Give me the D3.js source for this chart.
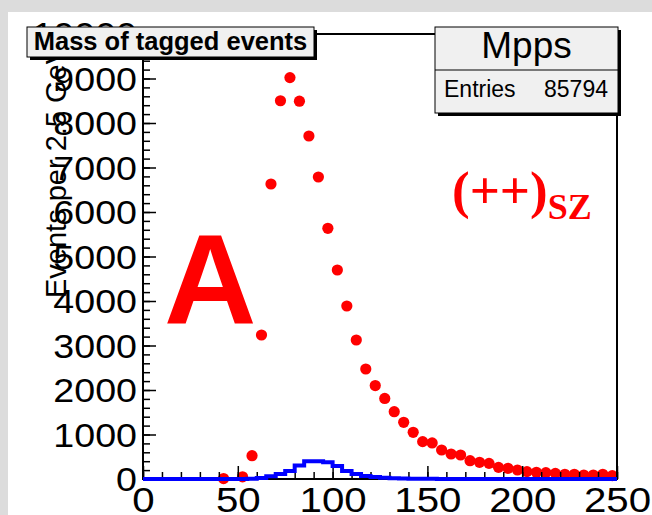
<!DOCTYPE html>
<html>
<head>
<meta charset="utf-8">
<script src="https://cdn.jsdelivr.net/npm/d3@7"></script>
<style>
  html, body { margin: 0; padding: 0; background: #dcdcdc; }
  svg { display: block; }
  text { font-family: "Liberation Sans", Arial, Helvetica, sans-serif; }
</style>
</head>
<body>
<div id="chart"></div>
<script>
// bin edges in GeV (5 GeV bins)
const binEdges = [0, 5, 10, 15, 20, 25, 30, 35, 40, 45, 50, 55, 60, 65, 70, 75, 80, 85, 90, 95,
                  100, 105, 110, 115, 120, 125, 130, 135, 140, 145, 150, 155, 160, 165, 170, 175, 180, 185, 190, 195,
                  200, 205, 210, 215, 220, 225, 230, 235, 240, 245, 250];

// red markers, one per bin (null = not drawn)
const redCounts = [null, null, null, null, null, null, null, null, 10, null,
                   50, 524, 3236, 6629, 8500, 9020, 8490, 7708, 6787, 5634,
                   4697, 3888, 3124, 2472, 2100, 1810, 1513, 1274, 1049, 839,
                   810, 652, 562, 539, 412, 375, 352, 262, 240, 202,
                   165, 150, 143, 127, 105, 105, 90, 90, 105, 75];

// blue histogram, one per bin
const blueCounts = [0, 0, 0, 0, 0, 0, 0, 0, 0, 0,
                    0, 5, 25, 60, 110, 180, 305, 400, 400, 375,
                    290, 180, 115, 70, 45, 30, 18, 10, 6, 4,
                    3, 2, 2, 1, 1, 1, 0, 0, 0, 0,
                    0, 0, 0, 0, 0, 0, 0, 0, 0, 0];

const xTicks = [0, 50, 100, 150, 200, 250];
const yTicks = [0, 1000, 2000, 3000, 4000, 5000, 6000, 7000, 8000, 9000, 10000];

const histTitle = "Mass of tagged events";
const statsName = "Mpps";
const statsEntries = 85794;
const yTitle = "Events per 2.5 GeV";

const W = 652, H = 515;
const margin = {top: 34, right: 35, bottom: 36, left: 143};
const width = W - margin.left - margin.right,
      height = H - margin.top - margin.bottom;

const svg = d3.select("#chart").append("svg")
    .attr("width", W)
    .attr("height", H);

// white pad
svg.append("rect")
    .attr("x", 8).attr("y", 12)
    .attr("width", W - 8).attr("height", H - 12)
    .attr("fill", "#ffffff");

const g = svg.append("g")
    .attr("transform", `translate(${margin.left},${margin.top})`);

const x = d3.scaleLinear().domain([0, 250]).range([0, width]);
const y = d3.scaleLinear().domain([0, 10000]).range([height, 0]);

// red markers (drawn before the axes, like ROOT)
const points = binEdges.slice(0, -1).map((lo, i) => ({m: (lo + binEdges[i + 1]) / 2, n: redCounts[i]}))
    .filter(d => d.n !== null);

g.selectAll(".dot")
    .data(points)
  .enter().append("circle")
    .attr("class", "dot")
    .attr("cx", d => x(d.m))
    .attr("cy", d => y(d.n))
    .attr("r", 5.6)
    .attr("fill", "#ff0000");

// minor ticks
g.append("g")
    .attr("transform", `translate(0,${height})`)
    .call(d3.axisBottom(x).ticks(25).tickSize(-7).tickSizeOuter(0).tickFormat(""))
    .call(a => a.select(".domain").remove());
g.append("g")
    .call(d3.axisLeft(y).ticks(50).tickSize(-7).tickSizeOuter(0).tickFormat(""))
    .call(a => a.select(".domain").remove());

// major ticks + labels (ROOT fonts here come out a bit wide, hence the scaleX)
const xAxis = g.append("g")
    .attr("transform", `translate(0,${height})`)
    .call(d3.axisBottom(x).tickValues(xTicks).tickFormat(d3.format("d")).tickSize(-13).tickSizeOuter(0));
xAxis.select(".domain").remove();
xAxis.selectAll("text")
    .attr("y", 0)
    .attr("dy", null)
    .attr("transform", "translate(0,33) scale(1.15,1)")
    .attr("font-size", 35)
    .attr("fill", "#000");

const yAxis = g.append("g")
    .call(d3.axisLeft(y).tickValues(yTicks).tickFormat(d3.format("d")).tickSize(-13).tickSizeOuter(0));
yAxis.select(".domain").remove();
yAxis.selectAll("text")
    .attr("x", 0)
    .attr("dy", "0.35em")
    .attr("transform", "translate(-6,0) scale(1.14,1)")
    .attr("font-size", 33)
    .attr("fill", "#000");

g.selectAll(".tick line").attr("stroke", "#000").attr("stroke-width", 1.5);

// y title
g.append("text")
    .attr("transform", "rotate(-90)")
    .attr("x", -(298 - margin.top))
    .attr("y", 66 - margin.left)
    .attr("text-anchor", "start")
    .attr("font-size", 29)
    .attr("fill", "#000")
    .text(yTitle);

// frame
g.append("rect")
    .attr("width", width)
    .attr("height", height)
    .attr("fill", "none")
    .attr("stroke", "#000")
    .attr("stroke-width", 2);

// blue histogram
const steps = blueCounts.map((v, i) => ({e: binEdges[i], v: v}));
steps.push({e: binEdges[binEdges.length - 1], v: blueCounts[blueCounts.length - 1]});

g.append("path")
    .datum(steps)
    .attr("fill", "none")
    .attr("stroke", "#0000ff")
    .attr("stroke-width", 4)
    .attr("d", d3.line().x(d => x(d.e)).y(d => y(d.v)).curve(d3.curveStepAfter));

// big labels
svg.append("text")
    .attr("x", 164).attr("y", 324)
    .attr("font-size", 128)
    .attr("font-weight", "bold")
    .attr("fill", "#ff0000")
    .text("A");

const sz = svg.append("text")
    .attr("x", 452).attr("y", 208)
    .attr("fill", "#ff0000")
    .attr("font-weight", "bold")
    .style("font-family", "'Liberation Serif', 'Times New Roman', serif");
sz.append("tspan").attr("font-size", 53).text("(++)");
sz.append("tspan").attr("font-size", 36).attr("dy", 11).text("SZ");

// title box
const tb = {x: 27, y: 27, w: 287, h: 30};
svg.append("rect").attr("x", tb.x + 3).attr("y", tb.y + 3).attr("width", tb.w).attr("height", tb.h).attr("fill", "#000");
svg.append("rect").attr("x", tb.x).attr("y", tb.y).attr("width", tb.w).attr("height", tb.h)
    .attr("fill", "#f0f0f0").attr("stroke", "#000").attr("stroke-width", 1);
svg.append("text")
    .attr("x", tb.x + tb.w / 2).attr("y", 50)
    .attr("text-anchor", "middle")
    .attr("font-size", 25.5)
    .attr("font-weight", "bold")
    .attr("fill", "#000")
    .text(histTitle);

// stats box
const sb = {x: 435, y: 27, w: 183, h: 86};
svg.append("rect").attr("x", sb.x + 3).attr("y", sb.y + 3).attr("width", sb.w).attr("height", sb.h).attr("fill", "#000");
svg.append("rect").attr("x", sb.x).attr("y", sb.y).attr("width", sb.w).attr("height", sb.h)
    .attr("fill", "#f0f0f0").attr("stroke", "#000").attr("stroke-width", 1);
svg.append("line")
    .attr("x1", sb.x).attr("x2", sb.x + sb.w)
    .attr("y1", 70).attr("y2", 70)
    .attr("stroke", "#000").attr("stroke-width", 1);
svg.append("text")
    .attr("x", sb.x + sb.w / 2).attr("y", 58)
    .attr("text-anchor", "middle")
    .attr("font-size", 37)
    .attr("fill", "#000")
    .text(statsName);
svg.append("text")
    .attr("x", 444).attr("y", 97)
    .attr("font-size", 23)
    .attr("fill", "#000")
    .text("Entries");
svg.append("text")
    .attr("x", 608).attr("y", 97)
    .attr("text-anchor", "end")
    .attr("font-size", 23)
    .attr("fill", "#000")
    .text(statsEntries);
</script>
</body>
</html>
